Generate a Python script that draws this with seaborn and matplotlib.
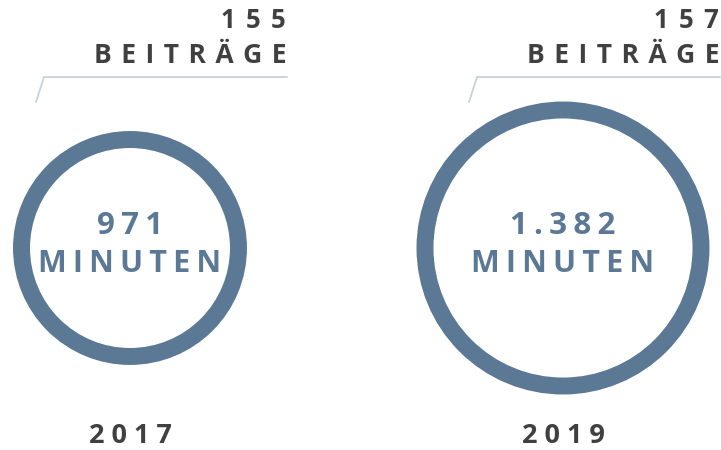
import pandas as pd
import matplotlib.pyplot as plt
import seaborn as sns

years = ["2017", "2019"]
minutes = [971, 1382]
minutes_text = ["971", "1.382"]
posts = [155, 157]
unit_minutes = "MINUTEN"
unit_posts = "BEITRÄGE"

ring = "#5b7895"
dark = "#404040"
rule = "#c9d1d9"

sns.set_style("white")
plt.rcParams["font.family"] = ["Open Sans", "DejaVu Sans"]


def spaced(s, gap=" "):
    return gap.join(s)


df = pd.DataFrame({"year": years, "minutes": minutes, "label": minutes_text, "posts": posts})
df["pos"] = range(len(df))
df["row"] = 0

fig = plt.figure(figsize=(7.21, 4.5), dpi=100)
ax = fig.add_axes([0, 0, 1, 1])

# pixel helpers: ring centres 433px apart, first one at x=130, y=248
W, H, cx, cy, step = 721, 450, 130, 248, 433
px = lambda x: (x - cx) / step
py = lambda y: y - cy

sns.scatterplot(data=df, x="pos", y="row", size="minutes", sizes=(24400, 39500),
                size_norm=(min(minutes), max(minutes)), marker="o",
                facecolor="white", edgecolor=ring, linewidth=12.2,
                legend=False, ax=ax, zorder=2)
ax.set_xlim(px(0), px(W))
ax.set_ylim(py(H), py(0))
ax.axis("off")

for _, r in df.iterrows():
    x = r["pos"]
    ax.text(x, py(233.5), spaced(r["label"], "\u2009"), ha="center", va="baseline",
            fontsize=22.5, fontweight="bold", color=ring, zorder=3)
    ax.text(x, py(272), spaced(unit_minutes, "\u2009"), ha="center", va="baseline",
            fontsize=22, fontweight="bold", color=ring, zorder=3)
    ax.text(x, py(443), spaced(r["year"], " "), ha="center", va="baseline",
            fontsize=19.5, fontweight="bold", color=dark)
    right = x + 156 / step
    ax.text(right, py(28), spaced(str(r["posts"]), "\u2009\u2009"), ha="right", va="baseline",
            fontsize=18.5, fontweight="bold", color=dark)
    ax.text(right, py(63), spaced(unit_posts, " \u200a"), ha="right", va="baseline",
            fontsize=19, fontweight="bold", color=dark)
    ax.plot([x - 94 / step, x - 86 / step, x + 157 / step], [py(102), py(77), py(77)],
            color=rule, lw=1.3)

fig.savefig("out.png", dpi=100)
